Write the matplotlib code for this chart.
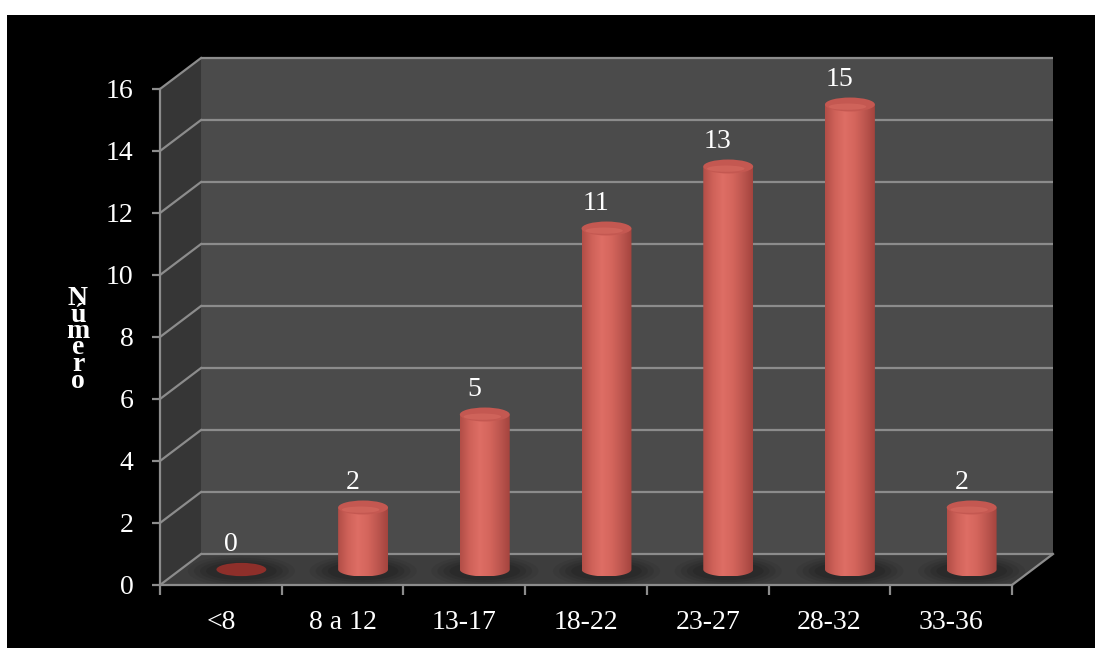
import numpy as np
import matplotlib
matplotlib.use("Agg")
import matplotlib.pyplot as plt
from matplotlib.patches import Polygon, Ellipse, Rectangle, PathPatch
from matplotlib.path import Path
from matplotlib.colors import LinearSegmentedColormap

categories = ["<8", "8 a 12", "13-17", "18-22", "23-27", "28-32", "33-36"]
values = [0, 2, 5, 11, 13, 15, 2]
yticks = [0, 2, 4, 6, 8, 10, 12, 14, 16]
ylabel = "Número"

plt.rcParams['font.family'] = ['Liberation Serif', 'DejaVu Serif']

W, H = 1095, 648
fig = plt.figure(figsize=(W / 100, H / 100), dpi=100, facecolor='white')
fig.patches.append(Rectangle((7 / W, 0), (W - 7) / W, (H - 15) / H,
                             transform=fig.transFigure, facecolor='black',
                             edgecolor='none', zorder=-10))

ax = fig.add_axes([160 / W, 63 / H, 852 / W, 496 / H])
ax.set_zorder(1)
ax.set_xlim(0, len(categories))
ymax = yticks[-1]
ax.set_ylim(0, ymax)
ax.patch.set_visible(False)

n = len(categories)
dx, dy = 0.337, 1.0
grid_c = '#8c8c8c'

# back wall, side wall, floor
ax.add_patch(Polygon([(dx, dy), (n + dx, dy), (n + dx, ymax + dy), (dx, ymax + dy)],
                     closed=True, facecolor='#4b4b4b', edgecolor='none', zorder=0.5, clip_on=False))
ax.add_patch(Polygon([(0, 0), (dx, dy), (dx, ymax + dy), (0, ymax)],
                     closed=True, facecolor='#363636', edgecolor='none', zorder=0.5, clip_on=False))
ax.add_patch(Polygon([(0, 0), (n, 0), (n + dx, dy), (dx, dy)],
                     closed=True, facecolor='#3d3d3d', edgecolor='none', zorder=0.6, clip_on=False))

for v in yticks:
    ax.plot([dx, n + dx], [v + dy, v + dy], color=grid_c, lw=1.6, zorder=1, clip_on=False,
            solid_capstyle='butt')
    ax.plot([0, dx], [v, v + dy], color=grid_c, lw=1.6, zorder=1, clip_on=False)
ax.plot([n, n + dx], [0, dy], color=grid_c, lw=1.6, zorder=1, clip_on=False)

# spines and ticks
for s in ['top', 'right']:
    ax.spines[s].set_visible(False)
for s in ['left', 'bottom']:
    ax.spines[s].set_color(grid_c)
    ax.spines[s].set_linewidth(1.6)
    ax.spines[s].set_zorder(10)

ax.set_yticks(yticks)
ax.set_yticklabels([str(t) for t in yticks])
ax.set_xticks(range(n + 1))
ax.set_xticklabels([])
ax.set_xticks([i + 0.5 for i in range(n)], minor=True)
ax.set_xticklabels(categories, minor=True)
ax.tick_params(axis='y', colors=grid_c, labelcolor='white', length=6, width=1.6,
               labelsize=20, pad=13)
ax.tick_params(axis='x', which='major', colors=grid_c, length=7, width=1.6)
ax.tick_params(axis='x', which='minor', length=0, labelcolor='white', labelsize=20, pad=18)

# cylinders
w = 0.205
eh = 0.45
cmap = LinearSegmentedColormap.from_list('cyl', ['#b24e47', '#cf6259', '#de6e65', '#d4655c',
                                                  '#bd564f', '#a4443e'])
grad = np.linspace(0, 1, 200).reshape(1, -1)
base = dy / 2
for i, v in enumerate(values):
    cx = i + 0.5 + dx / 2
    # soft shadow on the floor
    for (sw, sh, a) in [(0.88, 1.0, 0.10), (0.78, 0.86, 0.13), (0.68, 0.72, 0.17),
                        (0.58, 0.58, 0.22)]:
        ax.add_patch(Ellipse((cx, base - 0.05), sw, sh, facecolor='#1a1a1a', edgecolor='none',
                             alpha=a, zorder=2, clip_on=False))
    if v == 0:
        ax.add_patch(Ellipse((cx, base), 2 * w, eh * 0.95, facecolor='#8e2f2a',
                             edgecolor='none', zorder=3, clip_on=False))
        top = base
    else:
        top = base + v
        t = np.linspace(np.pi, 2 * np.pi, 40)
        bx = cx + w * np.cos(t)
        by = base + eh / 2 * np.sin(t)
        verts = [(cx - w, top), (cx + w, top)] + list(zip(bx[::-1], by[::-1])) + [(cx - w, top)]
        path = Path(verts, closed=True)
        body = PathPatch(path, facecolor='none', edgecolor='none', zorder=3, clip_on=False)
        ax.add_patch(body)
        im = ax.imshow(grad, cmap=cmap, extent=(cx - w, cx + w, base - eh / 2, top),
                       aspect='auto', zorder=3, interpolation='bilinear')
        im.set_clip_path(body)
        ax.add_patch(Ellipse((cx, top), 2 * w, eh, facecolor='#c45851', edgecolor='none',
                             zorder=4, clip_on=False))
        ax.add_patch(Ellipse((cx - 0.02, top - 0.07), 2 * w * 0.75, eh * 0.45, facecolor='#d4685f',
                             edgecolor='none', alpha=0.7, zorder=4, clip_on=False))
    ax.annotate(str(v), (i + 0.5 + dx / 4, top), xytext=(0, 9), textcoords='offset points',
                ha='center', va='bottom', color='white', fontsize=20, zorder=6,
                annotation_clip=False)

ax.set_xlim(0, n)
ax.set_ylim(0, ymax)

# stacked y label
for k, ch in enumerate(ylabel):
    fig.text(78 / W, 1 - (305 + 16.5 * k) / H, ch, ha='center', va='baseline',
             color='white', fontsize=20, fontweight='bold', zorder=5)

fig.savefig('out.png', dpi=100, facecolor='white')
